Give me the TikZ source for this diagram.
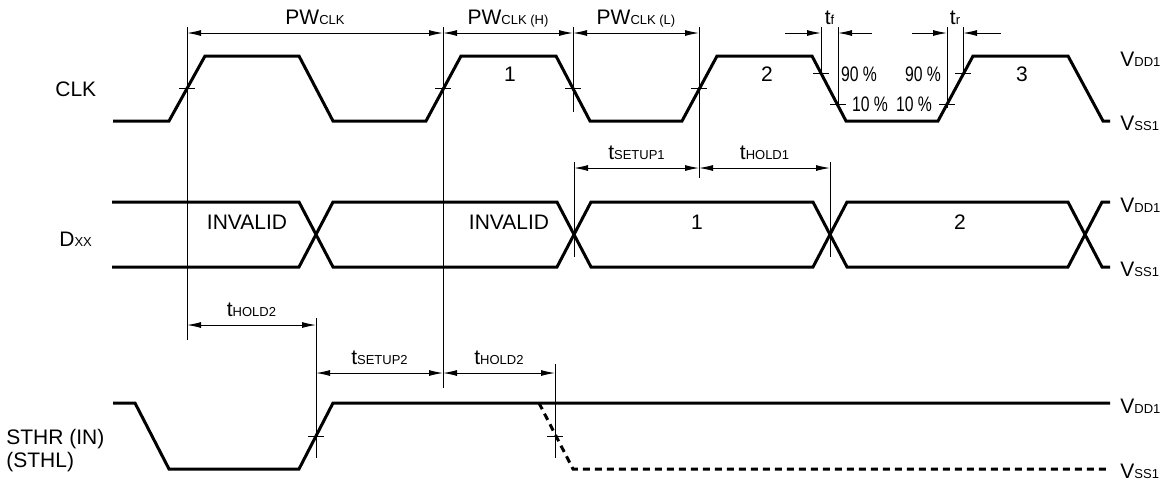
\documentclass[tikz,border=0pt]{standalone}
\usepackage{fontspec}
\setmainfont{Liberation Sans}
\usetikzlibrary{arrows.meta}
\newcommand\mainsize{\fontsize{10.5}{12.6}\selectfont}
\newcommand\sm[1]{{\fontsize{6.5}{7.5}\selectfont #1}} % small index on the baseline
\tikzset{%
  >={Latex[length=7pt,width=3pt]}, % filled arrow tips
  signal/.style={line width=1.5pt},
  guide/.style={line width=0.5pt},
  dim/.style={<->,line width=0.5pt},
  half/.style={->,line width=0.5pt},
  dimlabel/.style={anchor=base,yshift=4.5pt,inner sep=0pt},
  level/.style={anchor=base west,inner sep=0pt},
  pin label/.style={anchor=base west,inner sep=0pt},
  cell/.style={inner sep=0pt},
  pct/.style={inner sep=0pt,xscale=0.75}
}
\begin{document}
\begin{tikzpicture}[x=0.5pt,y=-0.5pt,font=\mainsize] % 1 unit = 1 pixel

\useasboundingbox (0,0) rectangle (1166,484);

%% signal names

\node[pin label] (clk) at (55,96) {CLK};
\node[pin label] (dxx) at (59,246) {D\sm{XX}};
\node[pin label] (sthr) at (6,444) {STHR (IN)};
\node[pin label] (sthl) at (6,467) {(STHL)};

%% supply levels

\foreach \hi/\lo [count=\i] in {56/121,202/267,403/469}{
  \node[level] (vdd\i) at (1120,\hi+10) {V\sm{DD1}};
  \node[level] (vss\i) at (1120,\lo+9) {V\sm{SS1}};
}

%% waveforms

% CLK
\draw[signal] (113,121) -- (169,121) -- (205,56) -- (299,56) -- (333,121)
  -- (426,121) -- (461,56) -- (556,56) -- (590,121) -- (682,121) -- (717,56)
  -- (812,56) -- (846,121) -- (938,121) -- (973,56) -- (1068,56)
  -- (1103,121) -- (1110,121);
% Dxx
\draw[signal] (112,202) -- (299,202) -- (333,267) -- (557,267) -- (591,202)
  -- (813,202) -- (847,267) -- (1068,267) -- (1102,202) -- (1110,202);
\draw[signal] (112,267) -- (299,267) -- (333,202) -- (557,202) -- (591,267)
  -- (813,267) -- (847,202) -- (1068,202) -- (1102,267) -- (1110,267);
% STHR
\draw[signal] (113,403) -- (135,403) -- (169,469) -- (299,469) -- (333,403)
  -- (1110,403);
\draw[signal,dash pattern=on 3.5pt off 2.5pt] (539,403) -- (573,469)
  -- (1110,469);

%% data labels

\node[cell] (c1) at (510,74) {1};
\node[cell] (c2) at (767,74) {2};
\node[cell] (c3) at (1022,74) {3};
\node[cell] (inv1) at (247,222) {INVALID};
\node[cell] (inv2) at (509,222) {INVALID};
\node[cell] (d1) at (697,222) {1};
\node[cell] (d2) at (960,222) {2};

%% guide lines and edge marks

\draw[guide] (187,27) -- (187,340);
\draw[guide] (443,27) -- (443,388);
\draw[guide] (573,27) -- (573,112);
\draw[guide] (699,27) -- (699,178);
\draw[guide] (821,27) -- (821,76);
\draw[guide] (838,27) -- (838,108);
\draw[guide] (947,27) -- (947,108);
\draw[guide] (963,27) -- (963,76);
\draw[guide] (574,162) -- (574,257);
\draw[guide] (830,162) -- (830,257);
\draw[guide] (316,318) -- (316,458);
\draw[guide] (555,364) -- (555,458);
\foreach \x/\y in {187/88,443/88,573/88,699/88,821/73,838/104,947/104,
                   963/73,316/436,555/436}
  \draw[guide] (\x,\y) +(-8,0) -- +(8,0);

\node[pct] (p90a) at (859,74) {90 \%};
\node[pct] (p90b) at (923,74) {90 \%};
\node[pct] (p10a) at (870,104) {10 \%};
\node[pct] (p10b) at (914,104) {10 \%};

%% timing dimensions

\draw[dim] (187,33) -- node[dimlabel] {PW\sm{CLK}} (443,33);
\draw[dim] (443,33) -- node[dimlabel] {PW\sm{CLK (H)}} (573,33);
\draw[dim] (573,33) -- node[dimlabel] {PW\sm{CLK (L)}} (699,33);
\draw[half] (785,33) -- (821,33);
\draw[half] (872,33) -- (838,33);
\node[dimlabel] (tf) at (829.5,33) {t\sm{f}};
\draw[half] (912,33) -- (947,33);
\draw[half] (1001,33) -- (963,33);
\node[dimlabel] (tr) at (955,33) {t\sm{r}};
\draw[dim] (574,168) -- node[dimlabel] {t\sm{SETUP1}} (699,168);
\draw[dim] (699,168) -- node[dimlabel] {t\sm{HOLD1}} (830,168);
\draw[dim] (187,325) -- node[dimlabel] {t\sm{HOLD2}} (316,325);
\draw[dim] (316,373) -- node[dimlabel] {t\sm{SETUP2}} (443,373);
\draw[dim] (443,373) -- node[dimlabel] {t\sm{HOLD2}} (555,373);

\end{tikzpicture}
\end{document}
